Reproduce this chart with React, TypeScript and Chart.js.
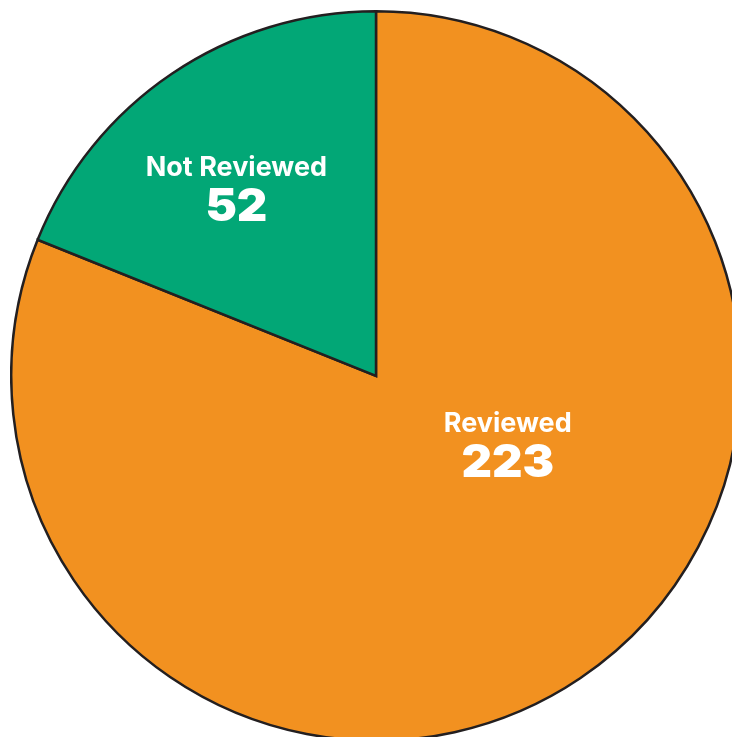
import React, { useEffect, useRef } from "react";
import { Chart, registerables } from "chart.js";

Chart.register(...registerables);

const categories = ["Reviewed", "Not Reviewed"];
const counts = [223, 52];
const sliceColors = ["#F29120", "#02A776"];
// label placement: angle (deg clockwise from top) and fraction of radius
const labelAngles = [116.9, 323.6];
const labelRadii = [0.405, 0.645];

const labelPlugin = {
  id: "sliceLabels",
  afterDatasetsDraw(chart: any) {
    const ctx = chart.ctx;
    const meta = chart.getDatasetMeta(0);
    meta.data.forEach((arc: any, i: number) => {
      const a = (labelAngles[i] * Math.PI) / 180;
      const r = arc.outerRadius * labelRadii[i];
      const x = arc.x + Math.sin(a) * r;
      const y = arc.y - Math.cos(a) * r;
      ctx.save();
      ctx.fillStyle = "#ffffff";
      ctx.textAlign = "center";
      ctx.textBaseline = "middle";
      ctx.font = "700 27px Inter";
      ctx.fillText(categories[i], x, y - 19);
      ctx.translate(x, y + 21);
      ctx.scale(1.05, 1);
      ctx.font = "900 45px Inter";
      ctx.fillText(String(counts[i]), 0, 0);
      ctx.restore();
    });
  },
};

export default function App() {
  const ref = useRef<HTMLCanvasElement>(null);
  useEffect(() => {
    if (!ref.current) return;
    const chart = new Chart(ref.current, {
      type: "pie",
      data: {
        labels: categories,
        datasets: [
          {
            data: counts,
            backgroundColor: sliceColors,
            borderColor: "#231F20",
            borderWidth: 2.5,
            borderJoinStyle: "miter",
          } as any,
        ],
      },
      options: {
        responsive: false,
        animation: false,
        layout: { padding: 0 },
        plugins: {
          legend: { display: false },
          tooltip: { enabled: false },
        },
      },
      plugins: [labelPlugin],
    });
    return () => chart.destroy();
  }, []);
  return (
    <div
      style={{
        position: "fixed",
        left: 0,
        top: 0,
        width: 732,
        height: 737,
        overflow: "hidden",
        background: "#ffffff",
      }}
    >
      <canvas
        ref={ref}
        width={732}
        height={732}
        style={{ position: "absolute", left: 10, top: 10, width: 732, height: 732 }}
      />
    </div>
  );
}
